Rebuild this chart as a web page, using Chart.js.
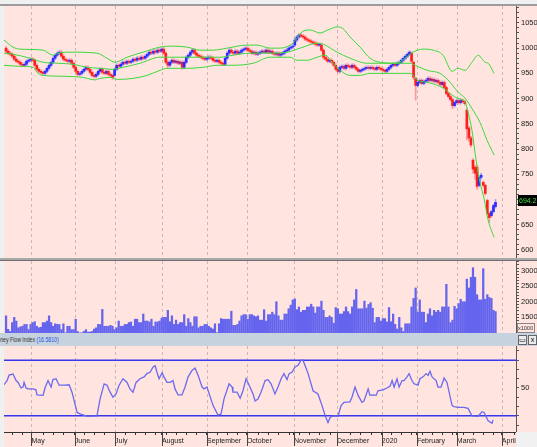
<!DOCTYPE html>
<html>
<head>
<meta charset="utf-8">
<title>Price, Volume and Money Flow Index</title>
<script src="https://cdn.jsdelivr.net/npm/chart.js@4.4.1/dist/chart.umd.min.js"></script>
<style>
  html, body { margin:0; padding:0; }
  body { width:537px; height:447px; overflow:hidden; position:relative; background:#f0f0f0; font-family:'Liberation Sans', Arial, sans-serif; }
  canvas { position:absolute; left:4px; background:#ffe4e0; }
  #c1 { top:6px; } #c2 { top:261px; } #c3 { top:346px; }
  #topline { position:absolute; left:0; top:4px; width:537px; height:2px; background:#9c9c9c; }
  #sep { position:absolute; left:0; top:258px; width:537px; height:2px; background:#a9a9a9; border-bottom:1px solid #707070; }
  #hdr { position:absolute; left:0; top:333px; width:537px; height:13px; background:#c6d2dd; overflow:hidden; }
  #hdrtxt { position:absolute; left:-7px; top:2px; font-size:7px; line-height:9px; color:#333; white-space:nowrap; transform:scaleX(0.74); transform-origin:0 0; }
  #hdrtxt span { color:#2050e8; }
  .btn { position:absolute; top:2px; width:7px; height:8px; background:#ececec; border:1px solid #666; font-size:7px; line-height:8px; text-align:center; color:#000; }
  #last { position:absolute; left:518px; top:195px; width:19px; height:11px; background:#000; color:#3be03b; font-size:7px; line-height:11px; overflow:hidden; white-space:nowrap; padding-left:1px; box-sizing:border-box; }
  #unit { position:absolute; left:517px; top:323px; width:16px; height:8px; border:1px solid #888; font-size:5.5px; line-height:8px; color:#333; overflow:hidden; white-space:nowrap; background:#ffe4e0; }
  #corner { position:absolute; left:516px; top:432px; width:21px; height:15px; background:#f0f0f0; }
</style>
</head>
<body>
<div id="topline"></div>
<canvas id="c1" width="542" height="252"></canvas>
<div id="sep"></div>
<canvas id="c2" width="542" height="72"></canvas>
<div id="hdr"><div id="hdrtxt">Money Flow Index <span>(16.5810)</span></div><div class="btn" style="left:518px">&#9645;</div><div class="btn" style="left:528px">x</div></div>
<canvas id="c3" width="542" height="101"></canvas>
<div id="corner"></div>
<div id="last">694.210</div>
<div id="unit">x1000</div>
<script>
// ---------- data ----------
const monthTicks  = [12.4, 33.6, 53.2, 76.1, 98.1, 117.6, 140.6, 161.6, 183.5, 200.6, 220.1, 242.1];
const monthLabels = ['May','June','July','August','September','October','November','December','2020','February','March','April'];

const open = [
1000,994,990,988,984,978,974,972,968,966,
968,974,976,978,976,966,958,954,952,950,
954,960,966,972,980,986,990,992,984,978,
976,974,976,970,962,954,948,950,954,958,
962,958,952,946,944,948,954,958,952,950,
954,948,946,946,958,966,964,968,972,970,
974,972,974,978,976,980,978,982,980,984,
988,992,990,994,992,996,994,998,990,972,
966,972,976,972,974,970,972,962,972,982,
986,992,996,990,986,984,982,980,978,980,
982,980,976,974,976,972,970,968,980,990,
996,992,990,994,990,992,996,998,1000,996,
994,990,992,988,990,992,994,992,996,992,
994,990,988,990,986,988,990,994,996,1000,
1002,1006,1016,1022,1026,1024,1022,1018,1016,1014,
1012,1010,1008,1006,1006,996,982,978,974,976,
972,966,958,954,962,964,960,966,964,962,
966,962,958,954,956,958,960,962,960,962,
960,958,962,960,958,956,954,958,962,966,
968,966,970,972,976,980,984,988,990,972,
940,926,932,936,930,934,936,940,936,938,
934,936,932,928,932,922,910,904,898,886,
892,896,892,896,894,877,842,822,778,764,
764,728,744,734,728,698,672,668,676,686];

const close = [
994,990,988,984,978,974,972,968,966,968,
974,976,978,976,966,958,954,952,950,954,
960,966,972,980,986,990,992,984,978,976,
974,976,970,962,954,948,950,954,958,962,
958,952,946,944,948,954,958,952,950,954,
948,946,942,958,966,964,968,972,970,974,
972,974,978,976,980,978,982,980,984,988,
992,990,994,992,996,994,998,990,972,966,
972,976,972,974,970,972,962,972,982,986,
992,996,990,986,984,982,980,978,980,982,
980,976,974,976,972,970,968,980,990,996,
992,990,994,990,992,996,998,1000,996,994,
990,992,988,990,992,994,992,996,992,994,
990,988,990,986,988,990,994,996,1000,1002,
1004,1016,1022,1026,1024,1022,1018,1016,1014,1012,
1010,1008,1006,1006,996,982,978,974,976,972,
966,958,954,962,964,960,966,964,962,966,
962,958,954,956,958,960,962,960,962,960,
958,962,960,958,956,954,958,962,966,968,
966,970,972,976,980,984,988,992,974,942,
926,932,936,930,934,936,940,936,938,934,
936,932,928,932,922,910,904,898,886,892,
896,892,896,894,890,840,822,808,760,752,
726,744,748,728,712,672,664,676,688,694.21];

const high = [
1003,997,993,991,987,981,977,975,971,971,
977,979,981,981,979,969,961,957,955,957,
963,969,975,983,989,993,995,995,987,981,
979,979,979,973,965,957,953,957,961,965,
965,961,955,949,951,957,961,961,955,957,
957,951,949,961,969,969,971,975,975,977,
977,977,981,981,983,983,985,985,987,991,
995,995,997,997,999,999,1001,1001,993,975,
975,979,979,977,977,975,975,975,985,989,
995,999,999,993,989,987,985,983,983,985,
985,983,979,979,979,975,973,983,993,999,
999,995,997,997,995,999,1001,1003,1003,999,
997,995,995,993,995,997,997,999,999,997,
997,993,993,993,991,993,997,999,1003,1005,
1007,1019,1025,1029,1029,1027,1025,1021,1019,1017,
1015,1013,1011,1009,1009,999,985,981,979,979,
975,969,961,965,967,967,969,969,967,969,
969,965,961,959,961,963,965,965,965,965,
963,965,965,963,961,959,961,965,969,971,
971,973,975,979,983,987,991,995,993,975,
943,935,939,939,937,939,943,943,941,941,
939,939,935,935,935,925,913,907,901,895,
899,899,899,899,897,880,845,825,781,767,
768,747,752,737,731,701,675,679,691,700];

const low = [
991,987,985,981,975,971,969,965,963,963,
965,971,973,973,963,955,951,949,947,947,
951,957,963,969,977,983,987,981,975,973,
971,971,967,959,951,945,945,947,951,955,
955,949,943,941,941,945,951,949,947,947,
945,943,938,943,955,961,961,965,967,967,
969,969,971,973,973,975,975,977,977,981,
985,987,987,989,989,991,991,987,969,960,
963,969,969,969,967,967,958,959,969,979,
983,989,987,983,981,979,977,975,975,977,
977,973,971,971,969,967,965,965,977,987,
989,987,987,987,987,989,993,995,993,991,
987,987,985,985,987,989,989,989,989,989,
987,985,985,983,983,985,987,991,993,997,
999,1003,1013,1019,1021,1019,1015,1013,1011,1009,
1007,1005,1003,1003,993,978,975,971,971,969,
963,955,951,951,959,957,957,961,959,959,
959,955,951,951,953,955,957,957,957,957,
955,955,957,955,953,951,951,955,959,963,
963,963,967,969,973,977,981,985,971,938,
897,923,929,927,927,931,933,933,933,931,
931,929,925,925,919,907,901,895,880,883,
889,889,889,891,887,818,815,804,752,740,
720,725,741,725,709,669,655,665,673,683];

const volume = [
15400,11000,10300,13200,14900,13700,11500,11800,12000,12600,
12600,10900,12600,13200,13500,12000,11500,11700,13200,13200,
13700,15400,13200,12000,12800,12600,12600,10900,12800,9900,
12000,12000,10900,10900,14300,10300,9800,9900,10300,10900,
10100,10100,10300,11100,11500,12600,12600,17500,12000,12000,
12000,12300,12000,10900,11500,13700,12000,12000,12600,12600,
13200,13400,12000,14300,14300,13200,13200,16000,13700,13700,
13400,14300,12000,13400,13400,13700,14700,14900,14900,17200,
13500,15400,12600,14000,12600,13200,13200,15800,12000,14500,
13200,12000,15100,15100,11500,12000,12000,12600,12600,12000,
11500,11100,12800,9900,12800,14500,14300,14300,14300,14300,
16900,12300,12300,12600,13700,15400,15800,15800,14300,15800,
15800,15400,15100,15400,14000,14000,17400,13700,15800,15800,
16600,15800,20000,15400,14000,14000,16000,16000,17700,18900,
20600,20900,17400,18300,16600,17200,17200,18300,18300,19200,
18300,16300,18300,18300,20200,17200,14900,14900,15400,14900,
13000,18100,17700,16000,16000,16800,18300,16800,16000,18300,
20600,24000,17700,17700,17700,20200,17900,19100,19700,17900,
13200,14900,14900,13700,14500,14500,13400,18100,13500,16000,
12600,11100,14900,11500,10300,12800,12800,12800,18300,21100,
24500,16600,20600,16600,16600,13200,16000,17700,15400,17200,
16600,17200,16600,18300,18300,25700,18300,13200,14000,18500,
17700,19400,20800,20000,20000,27400,24500,28000,31100,28000,
22300,20600,20600,30800,20800,22300,21400,21100,17200,16800];

// Bollinger bands: [day index, price]
const bbUpper = [[-1,1016],[3.4,1002],[6.8,998],[18.1,996],[22.9,986],[25.4,990],[31.3,992],[44.4,990],[49.3,980],[53.2,972],[59.1,982],[66.9,992],[75.2,1002],[81.5,1004],[88.4,1002],[94.7,996],[101.1,996],[107.9,1000],[117.7,1006],[122.6,1006],[128.9,1000],[133.8,1000],[140.1,1010],[144.5,1032],[148.4,1036],[153.3,1030],[157.2,1036],[161.6,1042],[164.1,1040],[168,1022],[172.9,1002],[177.7,980],[182.6,972],[190.9,970],[194.8,980],[198.7,992],[203.6,998],[208.5,996],[213.4,986],[217.8,954],[220.7,960],[224.1,956],[227.5,972],[230.5,986],[233.9,972],[235.4,970],[238.3,950]];
const bbMid = [[-1,990],[3.4,988],[11.7,980],[18.1,972],[25.4,970],[32.7,968],[39.6,962],[45.9,960],[51.8,958],[57.1,962],[65.4,970],[75.2,982],[85,982],[98.1,982],[104.5,982],[110.8,986],[119.1,990],[128.9,990],[137.2,992],[145,1002],[151.9,1010],[154.8,1008],[161.6,992],[168,980],[176.3,970],[182.6,970],[190.9,970],[197.3,970],[199.7,966],[205.6,956],[211.9,950],[215.8,937],[220.7,913],[224.1,901],[228,877],[231.4,853],[234.9,817],[238.3,788]];
const bbLower = [[-1,966],[6.8,964],[13.2,962],[15.6,950],[18.1,946],[29.8,944],[37.6,942],[43.5,937],[45.9,940],[50.8,942],[54.2,938],[62,940],[68.8,946],[75.2,956],[78.6,960],[88.4,960],[96.2,962],[103,966],[110.8,966],[120.6,970],[128.9,982],[138.7,982],[142.1,976],[147,976],[151.9,982],[155.8,986],[159.7,970],[163.1,956],[168,946],[172.9,946],[177.7,950],[190.9,950],[197.3,950],[200.7,937],[207,931],[213.4,921],[217.8,907],[220.2,901],[224.1,893],[225.6,873],[227.5,837],[229.5,778],[231.4,734],[233.4,702],[235.4,659],[238.3,625]];

// Money Flow Index: [day index, value]
const mfi = [[-1,53.5],[0.5,58],[1.5,64],[3.4,65],[4.9,58],[5.9,56],[7.3,50],[8.3,51],[8.8,56],[9.8,50],[10.7,49],[13.2,49],[14.6,48],[15.1,42.5],[18.1,42],[19,50],[20.5,58],[22,51],[22.9,59],[24.4,60],[25.9,53],[28.8,53],[30.8,53.5],[32.2,45.5],[34.7,23.6],[36.1,22],[37.6,21],[39.6,19.5],[44.4,20],[45.9,38],[47.9,54.5],[49.3,53],[50.8,45.5],[52.2,40],[53.7,43.6],[55.2,53],[57.1,60],[59.1,56],[60.5,49],[62,45.5],[63.5,56],[65.4,60],[67.4,62],[68.8,65.5],[70.3,67],[71.8,72.7],[72.8,74],[73.7,67],[74.7,60],[76.2,66.5],[77.1,62],[78.6,56],[80.1,56],[81.5,58],[82.5,49],[84,42.5],[85.9,42.5],[87.4,51],[88.9,62],[90.8,69],[92.3,71.6],[93.8,63.6],[95.7,51],[96.7,49],[98.1,51],[101.1,31],[103.5,20.7],[105,22],[106.4,38],[108.9,54.5],[110.4,51],[110.8,45.5],[112.8,45.5],[114.3,39],[115.7,47],[117.2,60],[118.7,53],[120.6,43.6],[121.6,36],[123,38],[124.5,45.5],[126.5,58],[127.9,59],[129.4,54.5],[131.3,43.6],[132.8,51],[134.3,60],[135.7,65.5],[137.2,59],[138.2,65.5],[139.6,67],[141.1,72.7],[142.6,74.5],[144,80],[145,80],[147.5,65.5],[149.9,47],[152.3,43.6],[154.3,31],[155.8,20],[157.2,12.7],[158.2,18],[159.2,19.5],[162.1,19.5],[163.6,31],[165,34.5],[167.9,35],[168.9,40],[170.4,51],[171.9,42],[173.8,34.5],[174.8,36],[176.8,49],[177.7,42],[179.2,42.5],[180.7,42],[181.6,47],[184.1,48],[186,50],[187.5,52],[188.5,58],[189.5,51],[190.9,60],[191.9,51],[193.4,58],[194.3,58],[195.8,62],[196.8,65.5],[198.2,58],[199.2,54.5],[201.2,53],[202.1,60],[203.6,62],[205.1,65.5],[206.1,63.6],[207,68],[208,62],[210,58],[210.9,51],[212.4,51],[213.9,60.7],[215.3,56],[217.8,31],[218.8,30],[220.7,29],[223.6,29],[225.6,28],[227.5,20],[230.5,19.5],[232.4,24.4],[233.4,23.6],[235.4,14.5],[237.3,12],[237.8,15.6]];
const mfiLevels = [80, 20];

// ---------- helpers ----------
const X_MIN = -1, X_MAX = 249;
const FONT = 'Liberation Sans';
const pairs = arr => arr.map(p => ({x: p[0], y: p[1]}));
const isUp = i => close[i] >= open[i];

const monthGrid = {
  id: 'monthGrid',
  beforeDatasetsDraw(chart) {
    const {ctx, chartArea: a, scales: {x}} = chart;
    ctx.save();
    ctx.strokeStyle = 'rgba(160,148,148,0.55)';
    ctx.lineWidth = 1;
    ctx.setLineDash([3, 3]);
    monthTicks.forEach(m => {
      const px = Math.round(x.getPixelForValue(m)) + 0.5;
      ctx.beginPath(); ctx.moveTo(px, a.top); ctx.lineTo(px, a.bottom); ctx.stroke();
    });
    ctx.restore();
  }
};
const longTicks = {
  id: 'longTicks',
  afterDraw(chart) {
    const {ctx, chartArea: a, scales: {x}} = chart;
    ctx.save();
    ctx.strokeStyle = '#444';
    ctx.lineWidth = 1;
    monthTicks.forEach(m => {
      const px = Math.round(x.getPixelForValue(m)) + 0.5;
      ctx.beginPath(); ctx.moveTo(px, a.bottom); ctx.lineTo(px, a.bottom + 14); ctx.stroke();
    });
    ctx.restore();
  }
};

// right-hand value axis; ticks every `step`, aligned on multiples of it
function rightAxis(min, max, step, labelFn) {
  return {
    position: 'right', min, max, beginAtZero: false,
    afterBuildTicks: s => {
      const t = [];
      for (let v = Math.ceil(min / step) * step; v <= max; v += step) t.push({value: v});
      s.ticks = t;
    },
    afterFit: s => { s.width = 30; s.paddingTop = 0; s.paddingBottom = 0; },
    grid: { drawOnChartArea: false, tickLength: 3, tickColor: '#555', color: '#555' },
    border: { display: true, color: '#555' },
    ticks: { autoSkip: false, padding: 2, font: { size: 7.5, family: FONT }, color: '#222', callback: labelFn }
  };
}
const common = {
  responsive: false, animation: false, devicePixelRatio: 1, events: [],
  layout: { padding: 0 },
  plugins: { legend: { display: false }, tooltip: { enabled: false } }
};
const hiddenX = () => ({ type: 'linear', min: X_MIN, max: X_MAX, display: false, offset: false });

// ---------- price chart ----------
new Chart(document.getElementById('c1'), {
  type: 'bar',
  data: {
    datasets: [
      { type: 'line', data: pairs(bbUpper), borderColor: '#3cd83c', borderWidth: 1, pointRadius: 0, cubicInterpolationMode: 'monotone' },
      { type: 'line', data: pairs(bbMid),   borderColor: '#3cd83c', borderWidth: 1, pointRadius: 0, cubicInterpolationMode: 'monotone' },
      { type: 'line', data: pairs(bbLower), borderColor: '#3cd83c', borderWidth: 1, pointRadius: 0, cubicInterpolationMode: 'monotone' },
      { data: close.map((c, i) => ({x: i, y: [open[i], c]})), barThickness: 2, grouped: false, minBarLength: 1, borderWidth: 0,
        backgroundColor: ctx => isUp(ctx.dataIndex) ? '#2a2aff' : '#ff1e1e' },
      { data: close.map((c, i) => ({x: i, y: [low[i], high[i]]})), barThickness: 1, grouped: false, borderWidth: 0,
        backgroundColor: ctx => isUp(ctx.dataIndex) ? 'rgba(70,70,255,0.45)' : 'rgba(255,60,60,0.45)' }
    ]
  },
  options: Object.assign({}, common, {
    scales: {
      x: hiddenX(),
      y: rightAxis(584, 1083.5, 10, v => (v % 50 === 0 ? String(v) : ''))
    }
  }),
  plugins: [monthGrid]
});

// ---------- volume chart ----------
new Chart(document.getElementById('c2'), {
  type: 'bar',
  data: {
    datasets: [
      { data: volume.map((v, i) => ({x: i, y: v})), barThickness: 1.6, grouped: false, borderWidth: 0, backgroundColor: '#6464ee' }
    ]
  },
  options: Object.assign({}, common, {
    scales: {
      x: hiddenX(),
      y: rightAxis(9800, 33300, 1000, v => (v % 5000 === 0 && v >= 15000 ? String(v) : ''))
    }
  }),
  plugins: [monthGrid]
});

// ---------- money flow index chart ----------
const weekTicks = [];
for (let t = 3.2; t < X_MAX; t += 5) {
  if (monthTicks.every(m => Math.abs(m - t) > 1.6)) weekTicks.push(t);
}
const allTicks = monthTicks.concat(weekTicks).sort((a, b) => a - b);

new Chart(document.getElementById('c3'), {
  type: 'line',
  data: {
    datasets: [
      { data: pairs(mfi), borderColor: '#6a6af0', borderWidth: 1.3, pointRadius: 0, tension: 0 },
      { data: [{x: X_MIN, y: mfiLevels[0]}, {x: X_MAX, y: mfiLevels[0]}], borderColor: '#3737ee', borderWidth: 1.6, pointRadius: 0 },
      { data: [{x: X_MIN, y: mfiLevels[1]}, {x: X_MAX, y: mfiLevels[1]}], borderColor: '#3737ee', borderWidth: 1.6, pointRadius: 0 }
    ]
  },
  options: Object.assign({}, common, {
    scales: {
      x: {
        type: 'linear', min: X_MIN, max: X_MAX, offset: false, position: 'bottom',
        afterBuildTicks: s => { s.ticks = allTicks.map(v => ({value: v})); },
        afterFit: s => { s.height = 15; s.paddingLeft = 0; s.paddingRight = 0; },
        grid: { drawOnChartArea: false, tickLength: 3, tickColor: '#333', color: '#333' },
        border: { display: true, color: '#333' },
        ticks: {
          autoSkip: false, maxRotation: 0, minRotation: 0, align: 'start', padding: 2,
          font: { size: 7, family: FONT }, color: '#222',
          callback: v => { const k = monthTicks.indexOf(v); return k >= 0 ? monthLabels[k] : ''; }
        }
      },
      y: rightAxis(2.5, 95.3, 10, v => (v === 50 ? '50' : ''))
    }
  }),
  plugins: [monthGrid, longTicks]
});
</script>
</body>
</html>
